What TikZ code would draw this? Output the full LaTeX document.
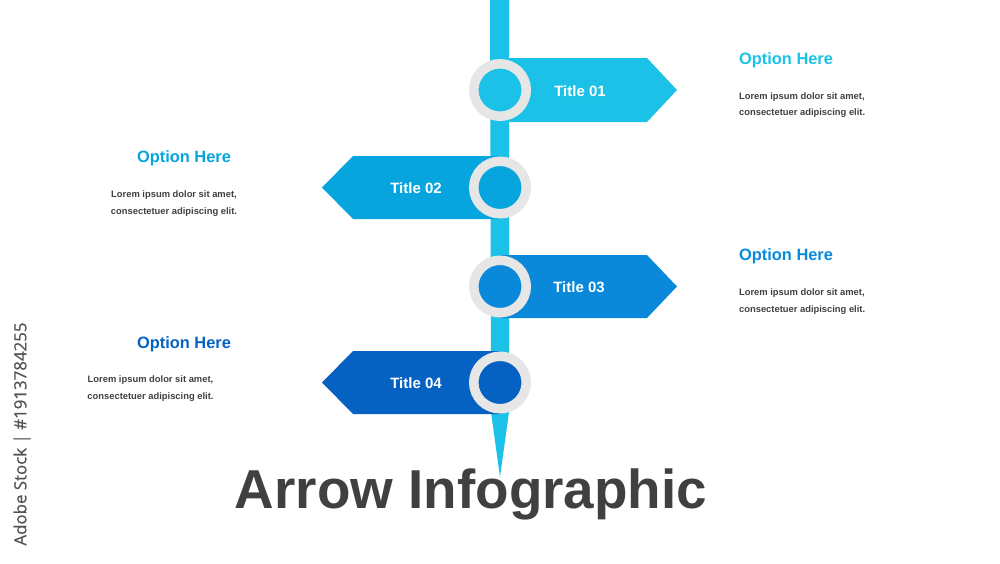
\documentclass[tikz,border=0pt]{standalone}
\usepackage{fontspec}
\setmainfont{Liberation Sans}
\newfontfamily\stockfont[FakeBold=0.6]{Open Sans}
\usetikzlibrary{positioning}
\definecolor{bluea}{RGB}{27,193,230}
\definecolor{blueb}{RGB}{6,165,221}
\definecolor{bluec}{RGB}{10,137,219}
\definecolor{blued}{RGB}{6,98,194}
\definecolor{ringgray}{RGB}{230,230,230}
\definecolor{textgray}{RGB}{64,64,64}

\begin{document}
\begin{tikzpicture}[x=0.3mm, y=-0.3mm,
    knob/.style={circle, draw=ringgray, line width=2.85mm, inner sep=0pt, minimum size=15.75mm},
    tag/.style={text=white, font=\bfseries\fontsize{12.8}{14}\selectfont},
    option/.style={font=\bfseries\fontsize{14}{16}\selectfont},
    lorem/.style={text=textgray, font=\bfseries\fontsize{8}{14}\selectfont}]
    \useasboundingbox (0,0) rectangle (1000,563);
    % stem
    \fill[bluea] (490,0) -- (509,0) -- (509,412) -- (500,477) -- (491,412) -- cycle;
    
    % banners
    \fill[bluea] (500,58) -- (647,58) -- (677,90) -- (647,122) -- (500,122) -- cycle;
    \fill[blueb] (500,156) -- (353,156) -- (322,187.5) -- (353,219) -- (500,219) -- cycle;
    \fill[bluec] (500,255) -- (647,255) -- (677,286.5) -- (647,318) -- (500,318) -- cycle;
    \fill[blued] (500,351) -- (353,351) -- (322,382.5) -- (353,414) -- (500,414) -- cycle;
    
    \node[knob, fill=bluea] (k1) at (500,90) {};
    \node[knob, fill=blueb] (k2) at (500,187.5) {};
    \node[knob, fill=bluec] (k3) at (500,286.5) {};
    \node[knob, fill=blued] (k4) at (500,382.5) {};
    
    \node[tag] (t1) at (580,91) {Title 01};
    \node[tag] (t2) at (416,188.5) {Title 02};
    \node[tag] (t3) at (579,287.5) {Title 03};
    \node[tag] (t4) at (416,383.5) {Title 04};
    
    % texts
    \node[option, text=bluea, anchor=west] (o1) at (735,60) {Option Here};
    \node[lorem, anchor=west, align=left] (l1) at (735,105) {Lorem ipsum dolor sit amet,\\consectetuer adipiscing elit.};
    \node[option, text=blueb] (o2) at (184,158) {Option Here};
    \node[lorem, align=center] (l2) at (174,203.5) {Lorem ipsum dolor sit amet,\\consectetuer adipiscing elit.};
    \node[option, text=bluec, anchor=west] (o3) at (735,256) {Option Here};
    \node[lorem, anchor=west, align=left] (l3) at (735,301.5) {Lorem ipsum dolor sit amet,\\consectetuer adipiscing elit.};
    \node[option, text=blued] (o4) at (184,344.5) {Option Here};
    \node[lorem, align=center] (l4) at (150.5,388.5) {Lorem ipsum dolor sit amet,\\consectetuer adipiscing elit.};
    
    \node[text=textgray, font=\bfseries\fontsize{46.8}{50}\selectfont, anchor=base] (head) at (471,508) {Arrow Infographic};
    \node[text=textgray!90, font=\stockfont\fontsize{14.4}{16}\selectfont, rotate=90] (stock) at (22,434) {Adobe Stock | \#1913784255};
\end{tikzpicture}
\end{document}
